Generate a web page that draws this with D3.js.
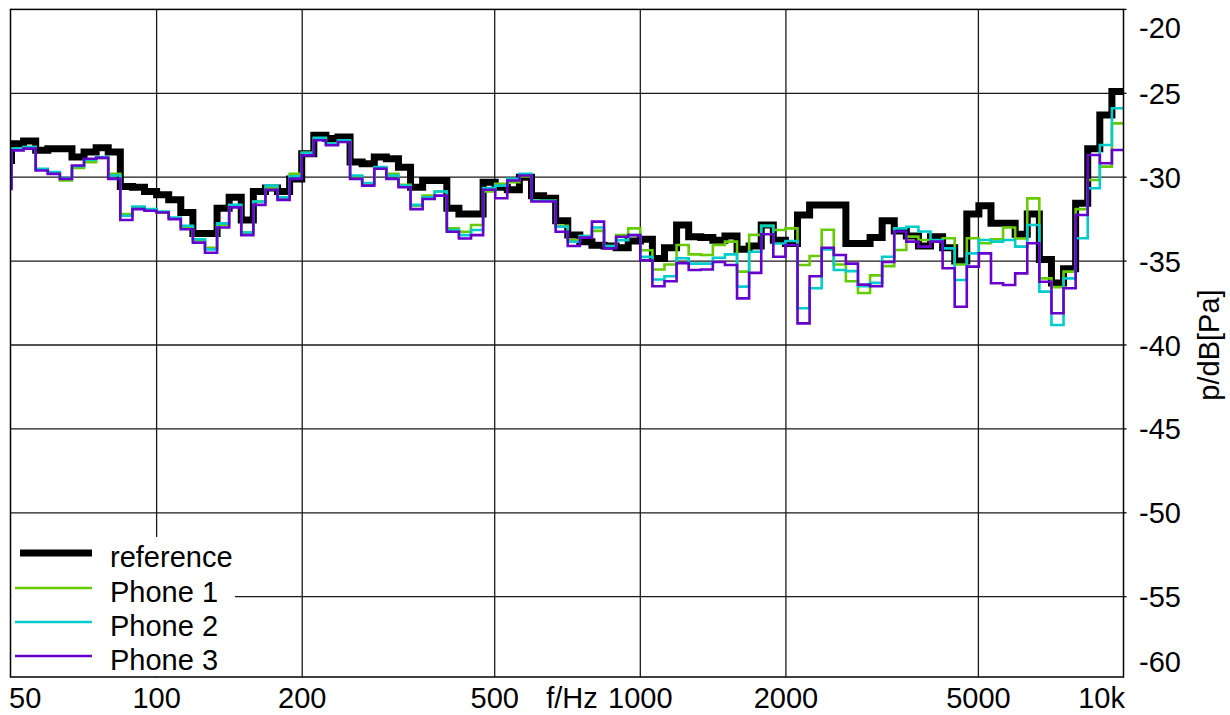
<!DOCTYPE html>
<html>
<head>
<meta charset="utf-8">
<script src="https://cdn.jsdelivr.net/npm/d3@7"></script>
<style>
  html, body { margin: 0; padding: 0; background: #fff; }
  svg { display: block; }
  text { font-family: "Liberation Sans", Arial, sans-serif; fill: #000; }
</style>
</head>
<body>
<svg id="chart" width="1230" height="715"></svg>
<script>
// ---- data ----
// 1/12-octave bands (base-10), band index j = -1 .. 91; band j starts at 1000*10^((j-52)/40) Hz
const bandIndex = d3.range(-1, 92);

const reference = [
  -29.0,
  -28.0, -27.85, -28.4, -28.3, -28.3, -28.8, -28.5, -28.25, -28.5, -30.55,
  -30.6, -30.85, -31.05, -31.35, -32.1, -33.35, -33.35, -31.85, -31.2, -32.55,
  -30.85, -30.65, -30.85, -30.1, -28.6, -27.5, -27.7, -27.6, -29.1, -29.2,
  -28.8, -28.9, -29.4, -30.6, -30.2, -30.2, -31.85, -32.2, -32.2, -30.3,
  -30.6, -30.75, -30.0, -31.1, -31.25, -32.6, -33.45, -33.85, -34.05, -34.1,
  -34.2, -33.8, -33.7, -34.85, -34.2, -32.85, -33.55, -33.6, -33.75, -33.5,
  -34.3, -34.1, -32.85, -33.75, -33.95, -32.25, -31.65, -31.65, -31.65, -33.95,
  -33.95, -33.6, -32.6, -33.2, -33.5, -34.1, -33.55, -34.2, -35.0, -32.2,
  -31.7, -32.75, -32.75, -33.4, -32.2, -34.9, -36.3, -35.45, -31.55, -28.3,
  -26.3, -24.9
];
const phone1 = [
  -30.6,
  -28.3, -28.2, -29.55, -29.75, -30.2, -29.45, -29.1, -28.85, -29.8, -32.2,
  -31.8, -31.95, -32.1, -32.45, -33.0, -33.75, -34.2, -32.85, -31.7, -33.3,
  -31.45, -30.65, -31.25, -29.8, -28.55, -27.7, -28.0, -27.85, -29.95, -30.4,
  -29.45, -29.8, -30.45, -31.7, -31.1, -30.85, -33.05, -33.25, -32.85, -30.85,
  -30.4, -30.3, -29.95, -31.4, -31.4, -32.9, -33.75, -33.5, -33.2, -34.1,
  -33.45, -33.05, -34.35, -35.5, -35.2, -34.04, -34.6, -34.64, -34.04, -33.84,
  -35.63, -33.44, -32.9, -33.15, -33.05, -35.23, -34.7, -33.13, -35.2, -36.2,
  -36.9, -35.85, -35.3, -34.34, -33.54, -33.74, -33.84, -33.64, -35.2, -33.64,
  -33.94, -33.7, -33.0, -33.65, -31.26, -36.03, -36.55, -35.63, -31.9, -30.17,
  -29.37, -26.79
];
const phone2 = [
  -30.6,
  -28.3, -28.2, -29.5, -29.7, -30.05, -29.35, -28.95, -28.8, -29.9, -32.3,
  -31.75, -31.9, -32.05, -32.4, -32.9, -33.7, -34.3, -32.75, -31.65, -33.3,
  -31.45, -30.5, -31.2, -29.95, -28.55, -27.65, -28.0, -27.8, -29.9, -30.35,
  -29.4, -29.9, -30.5, -31.65, -31.2, -30.85, -33.15, -33.45, -33.15, -30.65,
  -30.5, -30.1, -29.8, -31.4, -31.4, -32.95, -33.85, -33.5, -33.0, -34.1,
  -33.75, -33.45, -34.75, -36.1, -35.9, -34.83, -35.15, -35.15, -34.8, -34.6,
  -36.52, -34.44, -32.9, -33.95, -33.8, -37.81, -36.62, -34.3, -35.53, -35.6,
  -36.5, -36.3, -34.74, -33.05, -32.95, -33.24, -33.74, -34.24, -36.13, -34.54,
  -33.74, -33.84, -33.74, -34.14, -32.85, -36.82, -38.81, -36.03, -33.64, -30.66,
  -28.08, -25.89
];
const phone3 = [
  -30.7,
  -28.4, -28.3, -29.6, -29.8, -30.1, -29.3, -28.9, -28.85, -30.1, -32.55,
  -31.9, -32.0, -32.1, -32.5, -33.1, -33.9, -34.5, -33.0, -31.8, -33.45,
  -31.65, -30.75, -31.35, -30.1, -28.7, -27.8, -28.1, -27.9, -30.1, -30.5,
  -29.5, -30.1, -30.6, -31.9, -31.3, -31.1, -33.25, -33.65, -33.45, -30.75,
  -31.25, -30.2, -29.9, -31.45, -31.45, -33.25, -34.1, -33.6, -32.65, -34.25,
  -33.55, -33.45, -34.95, -36.5, -36.2, -35.13, -35.53, -35.5, -35.05, -35.23,
  -37.22, -35.7, -33.4, -34.74, -34.04, -38.71, -35.9, -34.2, -34.64, -35.15,
  -36.4, -36.5, -35.05, -33.24, -33.84, -34.14, -33.84, -35.43, -37.72, -35.33,
  -34.54, -36.32, -36.42, -35.73, -33.94, -36.23, -38.11, -36.62, -32.25, -28.68,
  -29.17, -28.38
];

const seriesNames = ["reference", "Phone 1", "Phone 2", "Phone 3"];
const xTickValues = [50, 100, 200, 500, 1000, 2000, 5000, 10000];
const xTickLabels = ["50", "100", "200", "500", "1000", "2000", "5000", "10k"];
const yTickValues = [-20, -25, -30, -35, -40, -45, -50, -55, -60];
const xAxisTitle = "f/Hz";
const yAxisTitle = "p/dB[Pa]";

// ---- layout ----
const svg = d3.select("#chart");
const L = 10.5, R = 1123.5, T = 9.4, B = 677;
const FS = 29;

const x = d3.scaleLog().domain([50, 10000]).range([11, 1124]);
const y = d3.scaleLinear().domain([-20, -60]).range([9.4, 680.6]);

const bandEdge = j => 1000 * Math.pow(10, (j - 52) / 40);

svg.append("defs").append("clipPath").attr("id", "clip")
  .append("rect").attr("x", L).attr("y", T).attr("width", R - L).attr("height", B - T);

// grid
const grid = svg.append("g").attr("stroke", "#1a1a1a").attr("stroke-width", 1.3);
grid.selectAll("line.v").data(xTickValues.filter(v => v > 50 && v < 10000)).join("line")
  .attr("x1", d => x(d)).attr("x2", d => x(d)).attr("y1", T).attr("y2", B);
grid.selectAll("line.h").data(yTickValues.filter(v => y(v) > T + 1 && y(v) < B - 1)).join("line")
  .attr("x1", L).attr("x2", R).attr("y1", d => y(d)).attr("y2", d => y(d));

// series
function pts(vals) {
  const p = bandIndex.map((j, i) => [x(bandEdge(j)), y(vals[i])]);
  p.push([x(bandEdge(bandIndex[bandIndex.length - 1] + 1)), y(vals[vals.length - 1])]);
  return p;
}
const line = d3.line().curve(d3.curveStepAfter);
const styles = [
  { data: reference, color: "#000000", w: 7 },
  { data: phone1, color: "#66cc00", w: 2.6 },
  { data: phone2, color: "#00cccc", w: 2.6 },
  { data: phone3, color: "#6600cc", w: 2.6 }
];
const plot = svg.append("g").attr("clip-path", "url(#clip)");
styles.forEach(s => {
  plot.append("path").attr("d", line(pts(s.data)))
    .attr("fill", "none").attr("stroke", s.color).attr("stroke-width", s.w)
    .attr("stroke-linejoin", "miter").attr("stroke-linecap", "butt");
});

// legend
const leg = svg.append("g");
leg.append("rect").attr("x", L + 0.7).attr("y", 537).attr("width", 235 - L - 0.7).attr("height", B - 537 - 0.7).attr("fill", "#fff");
const legY = [553, 588, 622, 656];
const legX0 = [20, 15, 15, 15];
seriesNames.forEach((n, i) => {
  leg.append("line").attr("x1", legX0[i]).attr("x2", 92).attr("y1", legY[i]).attr("y2", legY[i])
    .attr("stroke", styles[i].color).attr("stroke-width", i === 0 ? 7 : 2.6);
  leg.append("text").attr("x", 110).attr("y", legY[i] + 13.5).attr("font-size", FS).text(n);
});

// frame
svg.append("rect").attr("x", L).attr("y", T).attr("width", R - L).attr("height", B - T)
  .attr("fill", "none").attr("stroke", "#000").attr("stroke-width", 1.5);
// small right ticks
svg.append("g").selectAll("line").data(yTickValues.filter(v => y(v) < B)).join("line")
  .attr("x1", R).attr("x2", R + 3).attr("y1", d => y(d)).attr("y2", d => y(d))
  .attr("stroke", "#000").attr("stroke-width", 1.3);

// y tick labels (right)
svg.append("g").selectAll("text").data(yTickValues).join("text")
  .attr("x", 1139).attr("font-size", FS)
  .attr("y", d => Math.max(37.5, Math.min(672, y(d) + 10.5)))
  .text(d => d3.format("d")(d).replace("−", "-"));

// x tick labels
svg.append("g").selectAll("text").data(xTickValues).join("text")
  .attr("font-size", FS).attr("y", 708)
  .attr("x", (d, i) => i === 0 ? 9 : (i === xTickValues.length - 1 ? 1125 : x(d)))
  .attr("text-anchor", (d, i) => i === 0 ? "start" : (i === xTickValues.length - 1 ? "end" : "middle"))
  .text((d, i) => xTickLabels[i]);

svg.append("text").attr("x", 572).attr("y", 708).attr("font-size", FS)
  .attr("text-anchor", "middle").text(xAxisTitle);

svg.append("text").attr("font-size", FS).attr("text-anchor", "middle")
  .attr("transform", "translate(1219,345) rotate(-90)").text(yAxisTitle);
</script>
</body>
</html>
